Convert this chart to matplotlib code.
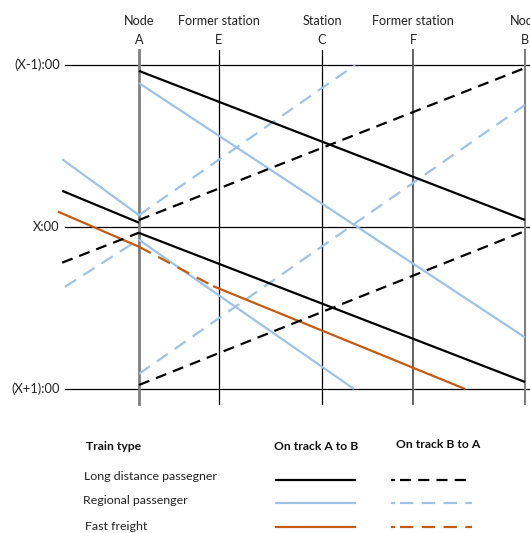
import matplotlib
matplotlib.use("Agg")
import matplotlib.pyplot as plt
from matplotlib.lines import Line2D

plt.rcParams['font.family'] = ['Lato', 'DejaVu Sans']

# ---- data ----
station_kind = ["Node", "Former station", "Station", "Former station", "Node"]
station_name = ["A", "E", "C", "F", "B"]
station_km = [0.0, 20.7, 47.4, 71.0, 100.0]

hour_labels = ["(X-1):00", "X:00", "(X+1):00"]
hour_min = [0, 60, 120]

# Long distance passenger, A -> B (solid black)
ld_ab_1_km = [0.0, 100.0];   ld_ab_1_min = [2.2, 57.4]
ld_ab_2_km = [0.0, 100.0];   ld_ab_2_min = [62.2, 117.4]
ld_left_km = [-19.9, 0.0];   ld_left_min = [46.6, 58.4]
# Long distance passenger, B -> A (dashed black)
ld_ba_1_km = [0.0, 100.0];   ld_ba_1_min = [57.4, 1.1]
ld_ba_2_km = [0.0, 100.0];   ld_ba_2_min = [118.5, 61.5]
ld_ba_left_km = [-19.9, 0.0]; ld_ba_left_min = [73.2, 62.1]

# Regional passenger, A -> B (solid light blue)
rp_ab_1_km = [0.0, 100.0];   rp_ab_1_min = [6.7, 100.9]
rp_ab_2_km = [0.0, 55.7];    rp_ab_2_min = [64.8, 120.0]
rp_left_km = [-19.9, 0.0];   rp_left_min = [34.9, 55.6]
# Regional passenger, B -> A (dashed light blue)
rp_ba_1_km = [0.0, 56.0];    rp_ba_1_min = [55.6, 0.0]
rp_ba_2_km = [0.0, 100.0];   rp_ba_2_min = [114.4, 14.8]
rp_ba_left_km = [-19.2, 0.0]; rp_ba_left_min = [82.2, 64.6]

# Fast freight (orange)
ff_left_km = [-21.0, 0.0];   ff_left_min = [54.3, 67.3]
ff_dash_km = [0.0, 19.2];    ff_dash_min = [67.3, 81.9]
ff_ab_km = [19.2, 84.5];     ff_ab_min = [81.9, 120.0]

legend_rows = ["Long distance passegner", "Regional passenger", "Fast freight"]
legend_heads = ["Train type", "On track A to B", "On track B to A"]

# ---- styles ----
BLACK = "#000000"
BLUE = "#9DC3E6"
ORANGE = "#C55A11"
DASH_BLACK = (0, (5, 3.2))
DASH_BLUE = (0, (6, 3.8))
TXT = "#222222"

W, H = 530, 533
fig = plt.figure(figsize=(W / 100, H / 100), dpi=100)
ax = fig.add_axes([0, 0, 1, 1])
px_per_km = 3.86
px_per_min = 2.7
xA, y0 = 139, 65
ax.set_xlim((0 - xA) / px_per_km, (W - xA) / px_per_km)
ax.set_ylim((H - y0) / px_per_min, (0 - y0) / px_per_min)
ax.axis("off")

def km(px):
    return (px - xA) / px_per_km

def mn(py):
    return (py - y0) / px_per_min

# horizontal hour lines
for lab, m in zip(hour_labels, hour_min):
    ax.plot([km(65), km(530)], [m, m], color=BLACK, lw=0.9, zorder=1)
    ax.text(km(60), m, lab, ha="right", va="center", fontsize=9.3, color=TXT)

# vertical station lines
vcol = ["#808080", "#000000", "#000000", "#555555", "#808080"]
vlw = [2.0, 0.9, 0.9, 1.3, 1.5]
for k, n, x, c, w in zip(station_kind, station_name, station_km, vcol, vlw):
    ax.plot([x, x], [mn(50), mn(404)], color=c, lw=w, zorder=1)
    ax.text(x, mn(21), k, ha="center", va="center", fontsize=9.1, color=TXT)
    ax.text(x, mn(40), n, ha="center", va="center", fontsize=9.1, color=TXT)

# train paths
def solid(xs, ys, c):
    ax.plot(xs, ys, color=c, lw=1.6, solid_capstyle="butt", zorder=3)

def dashed(xs, ys, c, ls):
    ax.plot(xs, ys, color=c, lw=1.6, linestyle=ls, dash_capstyle="butt", zorder=3)

solid(rp_ab_1_km, rp_ab_1_min, BLUE)
solid(rp_ab_2_km, rp_ab_2_min, BLUE)
solid(rp_left_km, rp_left_min, BLUE)
dashed(rp_ba_1_km, rp_ba_1_min, BLUE, DASH_BLUE)
dashed(rp_ba_2_km, rp_ba_2_min, BLUE, DASH_BLUE)
dashed(rp_ba_left_km, rp_ba_left_min, BLUE, DASH_BLUE)

solid(ff_left_km, ff_left_min, ORANGE)
dashed(ff_dash_km, ff_dash_min, ORANGE, DASH_BLUE)
solid(ff_ab_km, ff_ab_min, ORANGE)

solid(ld_ab_1_km, ld_ab_1_min, BLACK)
solid(ld_ab_2_km, ld_ab_2_min, BLACK)
solid(ld_left_km, ld_left_min, BLACK)
dashed(ld_ba_1_km, ld_ba_1_min, BLACK, DASH_BLACK)
dashed(ld_ba_2_km, ld_ba_2_min, BLACK, DASH_BLACK)
dashed(ld_ba_left_km, ld_ba_left_min, BLACK, DASH_BLACK)

# legend (figure pixel coordinates)
def fx(px):
    return px / W

def fy(py):
    return 1 - py / H

fig.text(fx(86), fy(446), legend_heads[0], ha="left", va="center", fontsize=8.7, fontweight="bold", color="#111111")
fig.text(fx(316), fy(446), legend_heads[1], ha="center", va="center", fontsize=8.7, fontweight="bold", color="#111111")
fig.text(fx(438), fy(444), legend_heads[2], ha="center", va="center", fontsize=8.7, fontweight="bold", color="#111111")

row_y = [477, 501, 526]
row_x = [84, 83, 85]
colors = [BLACK, BLUE, ORANGE]
dstyles = [DASH_BLACK, DASH_BLUE, DASH_BLUE]
line_y = [480, 503, 527]
for lab, yy, xx, c, ds, ly in zip(legend_rows, row_y, row_x, colors, dstyles, line_y):
    fig.text(fx(xx), fy(yy), lab, ha="left", va="center", fontsize=8.9, color=TXT)
    fig.add_artist(Line2D([fx(276), fx(355)], [fy(ly), fy(ly)], color=c, lw=1.6))
    fig.add_artist(Line2D([fx(400), fx(472)], [fy(ly), fy(ly)], color=c, lw=1.6,
                          linestyle=ds, dash_capstyle="butt"))
    fig.add_artist(Line2D([fx(392), fx(394)], [fy(ly), fy(ly)], color=c, lw=1.6))

fig.savefig("out.png", dpi=100)
